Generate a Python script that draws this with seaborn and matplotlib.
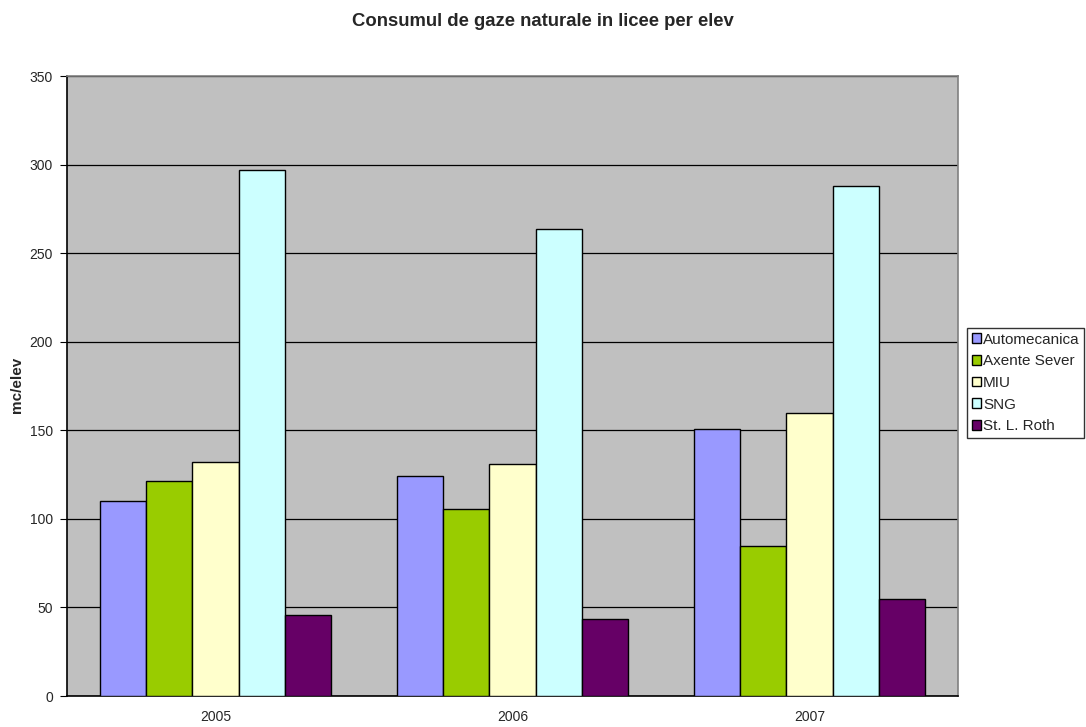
import pandas as pd
import matplotlib.pyplot as plt
import seaborn as sns

# data
years = ['2005', '2006', '2007']
schools = ['Automecanica', 'Axente Sever', 'MIU', 'SNG', 'St. L. Roth']
automecanica = [110, 124, 151]
axente_sever = [121.5, 105.3, 84.7]
miu = [132.2, 130.9, 159.8]
sng = [297, 263.5, 287.8]
st_l_roth = [45.8, 43.3, 54.7]
colors = ['#9999ff', '#99cc00', '#ffffcc', '#ccffff', '#660066']

rows = []
for school, vals in zip(schools, [automecanica, axente_sever, miu, sng, st_l_roth]):
    for yr, v in zip(years, vals):
        rows.append({'An': yr, 'Liceu': school, 'Valoare': v})
df = pd.DataFrame(rows)

sns.set_style('white')
plt.rcParams['font.family'] = ['Liberation Sans', 'DejaVu Sans']

fig = plt.figure(figsize=(10.86, 7.27), dpi=100)
ax = fig.add_axes([67 / 1086, 1 - 696 / 727, 891 / 1086, 620 / 727])

sns.barplot(data=df, x='An', y='Valoare', hue='Liceu', hue_order=schools,
            palette=dict(zip(schools, colors)), width=0.775, gap=0,
            edgecolor='black', linewidth=1, saturation=1, ax=ax, zorder=3)

ax.set_facecolor('#c0c0c0')
ax.set_xlim(-0.5, 2.5)
ax.set_ylim(0, 350)
ax.set_yticks(range(0, 351, 50))
ax.yaxis.grid(True, color='black', linewidth=0.9, zorder=0)
ax.set_axisbelow(True)
for s in ax.spines.values():
    s.set_color('#808080')
    s.set_linewidth(1.2)
ax.spines['left'].set_color('black')
ax.spines['bottom'].set_color('black')

# ticks between categories like the original
ax.set_xticks([-0.5, 0.5, 1.5, 2.5], minor=True)
ax.tick_params(axis='x', which='major', length=0, labelsize=10, pad=10)
ax.tick_params(axis='x', which='minor', length=5, color='black', direction='out')
ax.tick_params(axis='y', length=5, color='black', direction='out', labelsize=10,
               left=True, pad=5)

ax.set_xlabel('')
ax.set_ylabel('')
fig.text(17 / 1086, 1 - 385 / 727, 'mc/elev', rotation=90, ha='center', va='center',
         fontsize=11, fontweight='bold')
fig.text(543 / 1086, 1 - 22 / 727, 'Consumul de gaze naturale in licee per elev',
         ha='center', va='center', fontsize=13.3, fontweight='bold')

leg = ax.legend(loc='upper left', bbox_to_anchor=(967 / 1086, 1 - 328 / 727),
                bbox_transform=fig.transFigure, frameon=True,
                fancybox=False, edgecolor='black', fontsize=11, handlelength=0.6,
                handleheight=0.6, handletextpad=0.15, borderpad=0.3,
                labelspacing=0.5, borderaxespad=0)
leg.get_frame().set_linewidth(1)

fig.savefig('out.png', dpi=100)
